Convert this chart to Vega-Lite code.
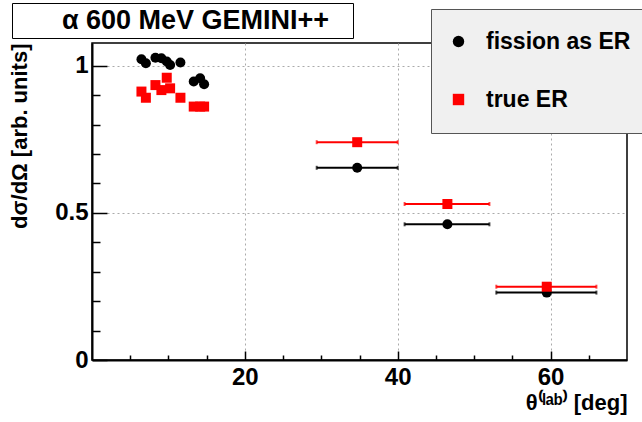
{
  "$schema": "https://vega.github.io/schema/vega-lite/v6.json",
  "width": 535,
  "height": 317,
  "autosize": {"type": "none"},
  "padding": {"left": 92, "top": 43, "right": 15, "bottom": 62},
  "background": "white",
  "config": {
    "font": "Liberation Sans",
    "view": {"stroke": "black", "strokeWidth": 1.5},
    "legend": {
      "orient": "none",
      "legendX": 339,
      "legendY": -34,
      "title": null,
      "fillColor": "#f0f0f0",
      "strokeColor": "#555555",
      "padding": 21,
      "labelFontSize": 23,
      "labelFontWeight": "bold",
      "labelColor": "black",
      "labelOffset": 16,
      "labelLimit": 300,
      "symbolSize": 130,
      "symbolOpacity": 1,
      "symbolOffset": -5,
      "symbolStrokeWidth": 0,
      "rowPadding": 34
    }
  },
  "data": {
    "values": [
      {"theta": 6.47, "y": 1.022, "series": "fission as ER"},
      {"theta": 7.05, "y": 1.008, "series": "fission as ER"},
      {"theta": 8.30, "y": 1.027, "series": "fission as ER"},
      {"theta": 9.08, "y": 1.025, "series": "fission as ER"},
      {"theta": 9.78, "y": 1.014, "series": "fission as ER"},
      {"theta": 10.22, "y": 1.002, "series": "fission as ER"},
      {"theta": 11.57, "y": 1.011, "series": "fission as ER"},
      {"theta": 13.31, "y": 0.946, "series": "fission as ER"},
      {"theta": 14.15, "y": 0.957, "series": "fission as ER"},
      {"theta": 14.67, "y": 0.937, "series": "fission as ER"},
      {"theta": 34.7, "y": 0.653, "series": "fission as ER", "lo": 29.4, "hi": 40.0},
      {"theta": 46.5, "y": 0.461, "series": "fission as ER", "lo": 40.9, "hi": 52.0},
      {"theta": 59.5, "y": 0.229, "series": "fission as ER", "lo": 52.9, "hi": 66.0},
      {"theta": 6.47, "y": 0.912, "series": "true ER"},
      {"theta": 7.05, "y": 0.891, "series": "true ER"},
      {"theta": 8.30, "y": 0.934, "series": "true ER"},
      {"theta": 9.08, "y": 0.917, "series": "true ER"},
      {"theta": 9.78, "y": 0.959, "series": "true ER"},
      {"theta": 10.22, "y": 0.923, "series": "true ER"},
      {"theta": 11.57, "y": 0.891, "series": "true ER"},
      {"theta": 13.31, "y": 0.861, "series": "true ER"},
      {"theta": 14.15, "y": 0.861, "series": "true ER"},
      {"theta": 14.67, "y": 0.861, "series": "true ER"},
      {"theta": 34.7, "y": 0.740, "series": "true ER", "lo": 29.4, "hi": 40.0},
      {"theta": 46.5, "y": 0.530, "series": "true ER", "lo": 40.9, "hi": 52.0},
      {"theta": 59.5, "y": 0.249, "series": "true ER", "lo": 52.9, "hi": 66.0}
    ]
  },
  "encoding": {
    "y": {
      "field": "y",
      "type": "quantitative",
      "scale": {"domain": [0, 1.077], "nice": false, "zero": false},
      "axis": {
        "title": "dσ/dΩ [arb. units]",
        "titleAnchor": "end",
        "titleFontSize": 22,
        "titleFontWeight": "bold",
        "titleColor": "black",
        "titlePadding": 23,
        "values": [0, 0.1, 0.2, 0.3, 0.4, 0.5, 0.6, 0.7, 0.8, 0.9, 1],
        "labelExpr": "datum.value == 0 ? '0' : datum.value == 0.5 ? '0.5' : datum.value == 1 ? '1' : ''",
        "labelFontSize": 24,
        "labelFontWeight": "bold",
        "labelColor": "black",
        "labelPadding": 19,
        "tickSize": {"condition": {"test": "datum.value == 0 || datum.value == 0.5 || datum.value == 1", "value": -15}, "value": -8},
        "tickColor": "black",
        "tickWidth": 1.5,
        "domainColor": "black",
        "domainWidth": 2,
        "grid": true,
        "gridColor": "#aaaaaa",
        "gridDash": [2, 3],
        "gridOpacity": {"condition": {"test": "datum.value == 0.5 || datum.value == 1", "value": 1}, "value": 0}
      }
    }
  },
  "layer": [
    {
      "transform": [{"filter": "isValid(datum.lo)"}],
      "mark": {"type": "rule", "strokeWidth": 2},
      "encoding": {
        "x": {"field": "lo", "type": "quantitative"},
        "x2": {"field": "hi"},
        "color": {"field": "series", "type": "nominal", "scale": {"domain": ["fission as ER", "true ER"], "range": ["black", "#ff0000"]}},
        "strokeDash": {
          "datum": "\u200b\u2002\u2009α 600 MeV GEMINI++\u2002\u2009\u200b",
          "type": "nominal",
          "scale": {"range": [[1, 0]]},
          "legend": {
            "orient": "none",
            "legendX": -80,
            "legendY": -40,
            "title": null,
            "fillColor": "white",
            "strokeColor": "black",
            "padding": 4,
            "labelFontSize": 27,
            "labelFontWeight": "bold",
            "labelColor": "black",
            "labelOffset": 0,
            "labelLimit": 500,
            "symbolSize": 0,
            "symbolOpacity": 0,
            "symbolStrokeWidth": 0,
            "symbolOffset": 0
          }
        }
      }
    },
    {
      "transform": [{"filter": "isValid(datum.lo)"}],
      "mark": {"type": "tick", "orient": "vertical", "size": 4, "thickness": 2},
      "encoding": {
        "x": {"field": "lo", "type": "quantitative"},
        "color": {"field": "series", "type": "nominal"}
      }
    },
    {
      "transform": [{"filter": "isValid(datum.lo)"}],
      "mark": {"type": "tick", "orient": "vertical", "size": 4, "thickness": 2},
      "encoding": {
        "x": {"field": "hi", "type": "quantitative"},
        "color": {"field": "series", "type": "nominal"}
      }
    },
    {
      "mark": {"type": "point", "filled": true, "opacity": 1, "size": 100},
      "encoding": {
        "x": {
          "field": "theta",
          "type": "quantitative",
          "scale": {"domain": [0, 70], "nice": false, "zero": false},
          "axis": {
            "title": "θ⁽ˡᵃᵇ⁾ [deg]",
            "titleAnchor": "end",
            "titleFontSize": 22,
            "titleFontWeight": "bold",
            "titleColor": "black",
            "titlePadding": 3,
            "values": [5, 10, 15, 20, 25, 30, 35, 40, 45, 50, 55, 60, 65],
            "labelExpr": "datum.value == 20 || datum.value == 40 || datum.value == 60 ? datum.label : ''",
            "labelFontSize": 24,
            "labelFontWeight": "bold",
            "labelColor": "black",
            "labelPadding": 14,
            "tickSize": {"condition": {"test": "datum.value % 20 == 0", "value": -9}, "value": -5},
            "tickColor": "black",
            "tickWidth": 1.5,
            "domainColor": "black",
            "domainWidth": 2,
            "grid": true,
            "gridColor": "#aaaaaa",
            "gridDash": [2, 3],
            "gridOpacity": {"condition": {"test": "datum.value % 20 == 0", "value": 1}, "value": 0}
          }
        },
        "color": {"field": "series", "type": "nominal"},
        "shape": {"field": "series", "type": "nominal", "scale": {"domain": ["fission as ER", "true ER"], "range": ["circle", "square"]}}
      }
    }
  ]
}
